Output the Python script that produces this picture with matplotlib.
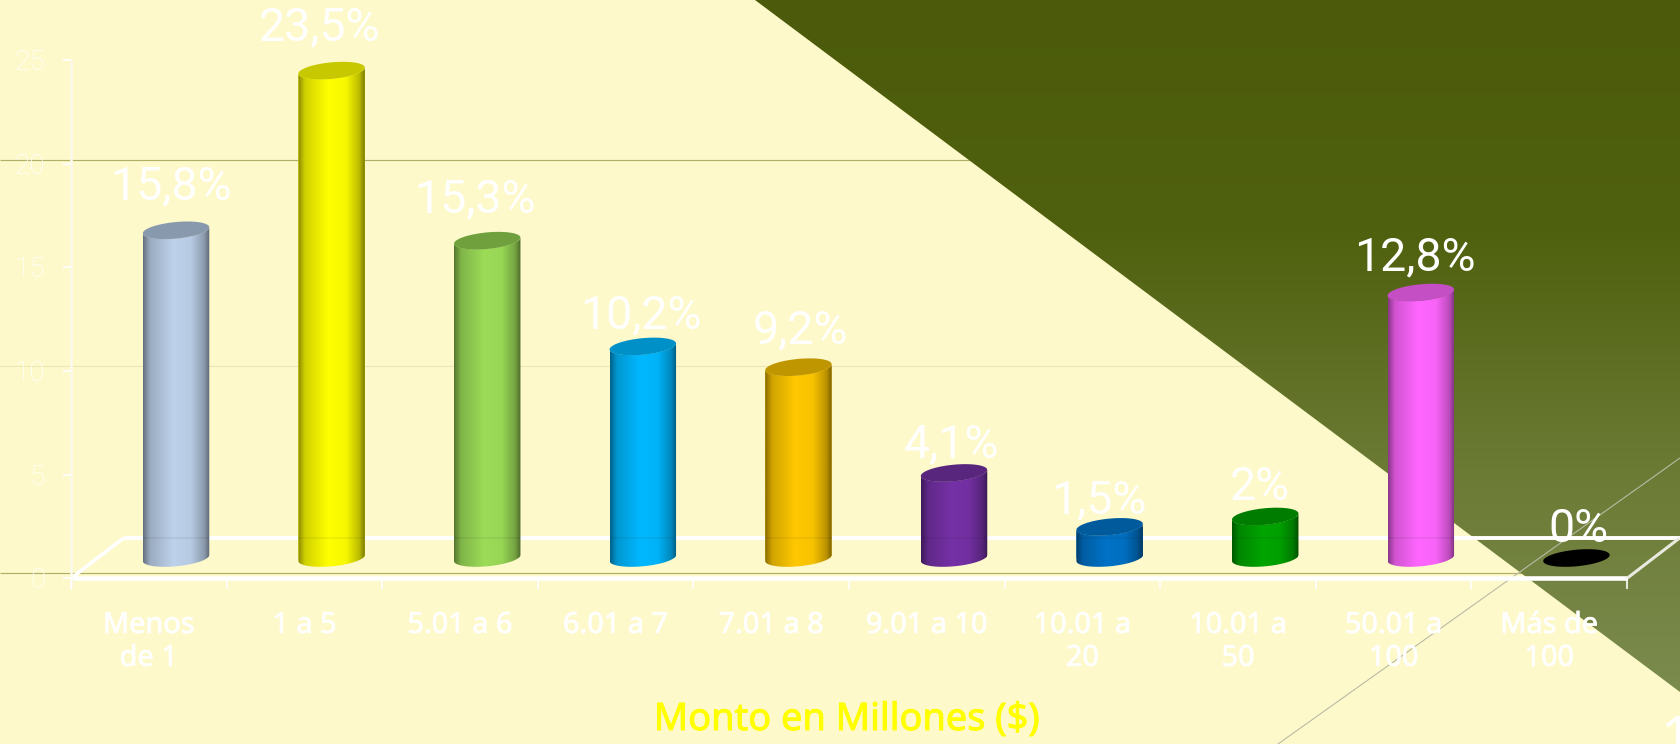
import numpy as np
import matplotlib
matplotlib.use("Agg")
import matplotlib.pyplot as plt
import matplotlib.patheffects as pe
from matplotlib.patches import Polygon
from matplotlib.colors import to_rgb, LinearSegmentedColormap

categories = ["Menos\nde 1", "1 a 5", "5.01 a 6", "6.01 a 7", "7.01 a 8",
              "9.01 a 10", "10.01 a\n20", "10.01 a\n50", "50.01 a\n100", "Más de\n100"]
values = [15.8, 23.5, 15.3, 10.2, 9.2, 4.1, 1.5, 2.0, 12.8, 0.0]
value_labels = ["15,8%", "23,5%", "15,3%", "10,2%", "9,2%", "4,1%", "1,5%", "2%", "12,8%", "0%"]
body_colors = ["#BDD1EA", "#FFFF00", "#9CDC58", "#00B8FF", "#FFC800",
               "#7531A6", "#0072C6", "#00A400", "#FF66FF", "#000000"]
top_colors = ["#8899AD", "#C8C800", "#6FA03D", "#0090C8", "#C09600",
              "#58267C", "#005A9C", "#007C00", "#C44EC4", "#000000"]
y_ticks = [0, 5, 10, 15, 20, 25]
grid_levels = [0, 10, 20]
grid_colors = ["#B0AF68", "#ECE8B4", "#B0AF68"]
label_dx = [-5, -12, -12, -2, 2, -3, -11, -5, -6, 2]
label_dy = [44, 43, 41, 31, 37, 29, 26, 30, 35, 29]

W, H = 1680, 744
PX_X, PX_Y = 155.6, 20.74   # pixels per category / per value unit
X0, Y0 = 71, 558            # pixel position of x=0, y=0

fig = plt.figure(figsize=(W / 100, H / 100), dpi=100, facecolor="#FEF9CB")
ax = fig.add_axes([0, 0, 1, 1])
ax.set_facecolor("#FEF9CB")
xlim = ((0 - X0) / PX_X, (W - X0) / PX_X)
ylim = ((Y0 - H) / PX_Y, Y0 / PX_Y)
ax.axis("off")

# ----- background wedge with vertical gradient
tri = Polygon([(755 / W, 1), (1, 1 - 692 / H), (1, 1)], closed=True,
              transform=ax.transAxes, facecolor="none", edgecolor="none")
ax.add_patch(tri)
cmap = LinearSegmentedColormap.from_list("wedge", ["#4B5B0B", "#4F600E", "#6B7A33", "#7B8B4E"])
grad = np.linspace(0, 1, 256).reshape(-1, 1)
im = ax.imshow(grad, cmap=cmap, extent=(755 / W, 1, 1 - 692 / H, 1), origin="upper",
               transform=ax.transAxes, aspect="auto", zorder=2, interpolation="bilinear")
im.set_clip_path(tri)

# ----- back wall grid lines (under wedge)
GRID_OFF = -0.70
for lev, col in zip(grid_levels, grid_colors):
    ax.plot(xlim, [lev * 0.995 + GRID_OFF] * 2, color=col, lw=0.85, zorder=1, solid_capstyle="butt")

# ----- thin diagonal across the lower right
ax.plot([1, 1278 / W], [1 - 458 / H, 0], transform=ax.transAxes, color="#B9BBA6", lw=0.8, zorder=3)

# ----- floor and axes
FRONT, BACK = -0.98, 0.96
DX = 0.3375
n = len(categories)
white = "#FFFFFF"
kw = dict(color=white, solid_capstyle="butt", zorder=4)
ax.plot([0, n], [FRONT, FRONT], lw=3.3, **kw)
ax.plot([DX, n + DX], [BACK, BACK], lw=2.8, **kw)
ax.plot([0, DX], [FRONT, BACK], lw=2.6, **kw)
ax.plot([n, n + DX], [FRONT, BACK], lw=2.2, color="#E9E9DF", solid_capstyle="butt", zorder=4)
ax.plot([0, 0], [FRONT - 0.5, y_ticks[-1] + FRONT], lw=1.9, color="#FBF9EC", solid_capstyle="butt", zorder=4)
for i in range(n + 1):
    ax.plot([i, i], [FRONT, FRONT - 0.5], lw=1.2, **kw)
for t in y_ticks:
    ax.plot([-0.05, 0], [t + FRONT] * 2, lw=1.2, **kw)
    ax.text(-0.167, t + FRONT - 0.12, str(t), ha="right", va="center", color=white,
            fontsize=20, family="Roboto", fontweight="light", zorder=6)
for i, lab in enumerate(categories):
    ax.text(i + 0.5, -2.55, lab, ha="center", va="top", color=white, fontsize=20.8,
            family="Noto Sans", linespacing=1.18, zorder=6,
            path_effects=[pe.withStroke(linewidth=0.5, foreground=white)])

# ----- cylinders
HW, A, B = 0.2135, 0.40, 0.145
shade_u = [0, 0.10, 0.45, 0.72, 0.92, 1]
shade_f = [0.55, 0.82, 1.0, 0.97, 0.74, 0.5]
u = np.linspace(0, 1, 64)
shade = np.interp(u, shade_u, shade_f)
t_front = np.linspace(np.pi, 2 * np.pi, 40)
t_all = np.linspace(0, 2 * np.pi, 80)

def ellipse(c, v, t):
    return np.column_stack([c + HW * np.cos(t), v + A * np.sin(t) + B * np.cos(t)])

centers = np.arange(n) + 0.675
bars = ax.bar(centers, values, width=2 * HW, color=body_colors, zorder=4.5)
for bar, c, v, bc, tc in zip(bars, centers, values, body_colors, top_colors):
    body = np.vstack([ellipse(c, 0, t_front), ellipse(c, v, np.array([0.0]))[0],
                      ellipse(c, v, t_front[::-1])])
    clip = Polygon(body, closed=True, transform=ax.transData, facecolor="none", edgecolor="none")
    ax.add_patch(clip)
    bar.set_clip_path(clip)
    rgb = np.array(to_rgb(bc))[None, None, :] * shade[None, :, None]
    img = ax.imshow(rgb, extent=(c - HW, c + HW, -A - B, v + A + B), aspect="auto",
                    interpolation="bilinear", zorder=5)
    img.set_clip_path(clip)
    if v > 1:
        ax.plot([c - HW, c + HW], [BACK, BACK], color="#000000", alpha=0.05, lw=1.4,
                solid_capstyle="butt", zorder=5.2)
    ax.add_patch(Polygon(ellipse(c, v, t_all), closed=True, facecolor=tc, edgecolor="none", zorder=5.5))

# ----- value labels
for c, v, lab, dx, dy in zip(centers, values, value_labels, label_dx, label_dy):
    ax.annotate(lab, (c, v), xytext=(dx * 0.72, dy * 0.72), textcoords="offset points",
                ha="center", va="center", color=white, fontsize=33.5, family="Roboto", zorder=7)

# ----- axis title and stray page digit
ax.text(847 / W, 1 - 720 / H, "Monto en Millones ($)", transform=ax.transAxes, ha="center",
        va="center", color="#FFFF00", fontsize=27.3, family="Noto Sans", zorder=6,
        path_effects=[pe.withStroke(linewidth=0.7, foreground="#FFFF00")])
ax.text(1660 / W, 1 - 713 / H, "1", transform=ax.transAxes, ha="left", va="top", color=white,
        fontsize=40, family="Noto Sans", fontweight="bold", zorder=6, clip_on=True)

ax.set_xlim(xlim)
ax.set_ylim(ylim)
fig.savefig("out.png", dpi=100, facecolor=fig.get_facecolor())
